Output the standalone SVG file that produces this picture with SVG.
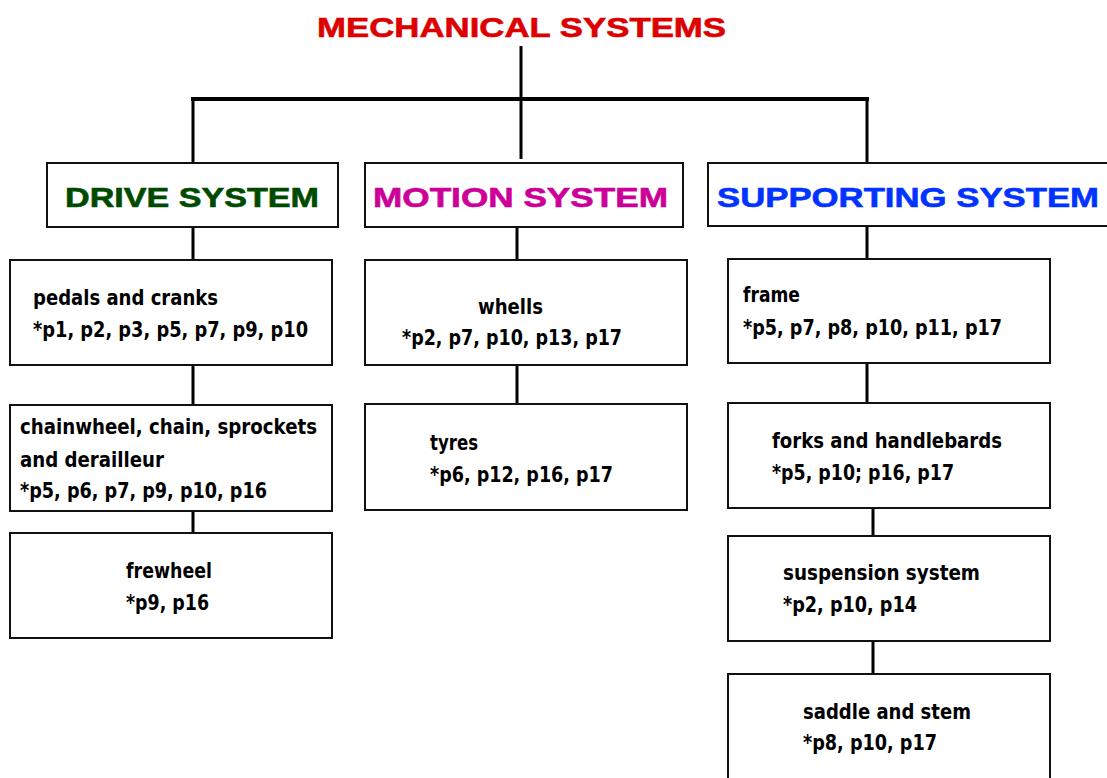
<svg xmlns="http://www.w3.org/2000/svg" width="1107" height="778" viewBox="0 0 1107 778">
<style>
.box{fill:#fff;stroke:#111;stroke-width:2}
.conn line{stroke:#000;stroke-width:3}
.hd{font-family:"Liberation Sans",Arial,sans-serif;font-weight:bold;font-size:28px;stroke-width:0.6}
.t{font-family:"Liberation Sans Narrow","DejaVu Sans Condensed","Liberation Sans",sans-serif;font-weight:bold;font-size:21px;fill:#000}
</style>
<rect width="1107" height="778" fill="#fff"/>
<g class="conn" id="connectors">
<line x1="521" y1="46" x2="521" y2="100"/>
<line x1="191" y1="99" x2="869" y2="99" style="stroke-width:4"/>
<line x1="193" y1="99" x2="193" y2="163"/>
<line x1="521" y1="99" x2="521" y2="159"/>
<line x1="867" y1="99" x2="867" y2="163"/>
<line x1="193" y1="228" x2="193" y2="259"/>
<line x1="517" y1="228" x2="517" y2="259"/>
<line x1="867" y1="227" x2="867" y2="259"/>
<line x1="193" y1="365" x2="193" y2="405"/>
<line x1="193" y1="511" x2="193" y2="533"/>
<line x1="517" y1="365" x2="517" y2="404"/>
<line x1="867" y1="363" x2="867" y2="403"/>
<line x1="873" y1="508" x2="873" y2="536"/>
<line x1="873" y1="641" x2="873" y2="674"/>
</g>
<g id="title"><text class="hd" x="317" y="37" fill="#dd0000" stroke="#dd0000" textLength="409" lengthAdjust="spacingAndGlyphs">MECHANICAL SYSTEMS</text></g>
<g id="drive-system"><rect class="box" x="47" y="163" width="291" height="64"/><text class="hd" x="65" y="207" fill="#004a00" stroke="#004a00" textLength="254" lengthAdjust="spacingAndGlyphs">DRIVE SYSTEM</text></g>
<g id="motion-system"><rect class="box" x="365" y="163" width="318" height="64"/><text class="hd" x="373" y="207" fill="#cc0099" stroke="#cc0099" textLength="295" lengthAdjust="spacingAndGlyphs">MOTION SYSTEM</text></g>
<g id="supporting-system"><rect class="box" x="708" y="163" width="410" height="63"/><text class="hd" x="717" y="207" fill="#0033ff" stroke="#0033ff" textLength="382" lengthAdjust="spacingAndGlyphs">SUPPORTING SYSTEM</text></g>
<g id="pedals"><rect class="box" x="10" y="260" width="322" height="105"/>
<text class="t" x="33" y="305" textLength="185" lengthAdjust="spacingAndGlyphs">pedals and cranks</text>
<text class="t" x="33" y="337" textLength="275" lengthAdjust="spacingAndGlyphs">*p1, p2, p3, p5, p7, p9, p10</text></g>
<g id="chainwheel"><rect class="box" x="10" y="405" width="322" height="106"/>
<text class="t" x="20" y="434" textLength="297" lengthAdjust="spacingAndGlyphs">chainwheel, chain, sprockets</text>
<text class="t" x="20" y="467" textLength="144" lengthAdjust="spacingAndGlyphs">and derailleur</text>
<text class="t" x="20" y="498" textLength="247" lengthAdjust="spacingAndGlyphs">*p5, p6, p7, p9, p10, p16</text></g>
<g id="frewheel"><rect class="box" x="10" y="533" width="322" height="105"/>
<text class="t" x="126" y="578" textLength="86" lengthAdjust="spacingAndGlyphs">frewheel</text>
<text class="t" x="126" y="610" textLength="83" lengthAdjust="spacingAndGlyphs">*p9, p16</text></g>
<g id="whells"><rect class="box" x="365" y="260" width="322" height="105"/>
<text class="t" x="478" y="314" textLength="65" lengthAdjust="spacingAndGlyphs">whells</text>
<text class="t" x="402" y="345" textLength="220" lengthAdjust="spacingAndGlyphs">*p2, p7, p10, p13, p17</text></g>
<g id="tyres"><rect class="box" x="365" y="404" width="322" height="106"/>
<text class="t" x="430" y="450" textLength="48" lengthAdjust="spacingAndGlyphs">tyres</text>
<text class="t" x="430" y="482" textLength="183" lengthAdjust="spacingAndGlyphs">*p6, p12, p16, p17</text></g>
<g id="frame"><rect class="box" x="728" y="259" width="322" height="104"/>
<text class="t" x="743" y="302" textLength="57" lengthAdjust="spacingAndGlyphs">frame</text>
<text class="t" x="743" y="335" textLength="259" lengthAdjust="spacingAndGlyphs">*p5, p7, p8, p10, p11, p17</text></g>
<g id="forks"><rect class="box" x="728" y="403" width="322" height="105"/>
<text class="t" x="772" y="448" textLength="230" lengthAdjust="spacingAndGlyphs">forks and handlebards</text>
<text class="t" x="772" y="480" textLength="182" lengthAdjust="spacingAndGlyphs">*p5, p10; p16, p17</text></g>
<g id="suspension"><rect class="box" x="728" y="536" width="322" height="105"/>
<text class="t" x="783" y="580" textLength="197" lengthAdjust="spacingAndGlyphs">suspension system</text>
<text class="t" x="783" y="612" textLength="134" lengthAdjust="spacingAndGlyphs">*p2, p10, p14</text></g>
<g id="saddle"><rect class="box" x="728" y="674" width="322" height="120"/>
<text class="t" x="803" y="719" textLength="168" lengthAdjust="spacingAndGlyphs">saddle and stem</text>
<text class="t" x="803" y="750" textLength="134" lengthAdjust="spacingAndGlyphs">*p8, p10, p17</text></g>
</svg>
